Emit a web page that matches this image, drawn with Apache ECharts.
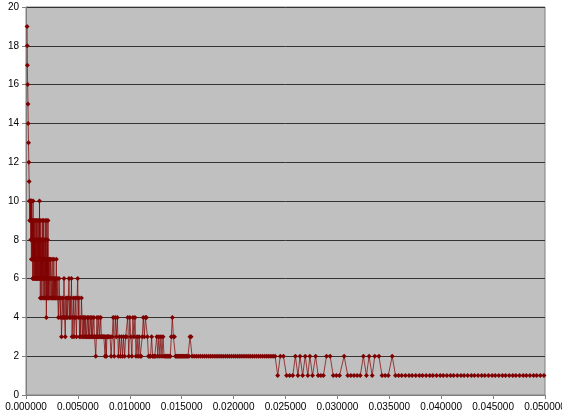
<!DOCTYPE html>
<html>
<head>
<meta charset="utf-8">
<script src="https://cdn.jsdelivr.net/npm/echarts@6/dist/echarts.min.js"></script>
<style>
html,body{margin:0;padding:0;background:#fff;}
#c{width:562px;height:417px;}
</style>
</head>
<body>
<div id="c"></div>
<script>
// Tick settings
const xTicks = [0, 0.005, 0.010, 0.015, 0.020, 0.025, 0.030, 0.035, 0.040, 0.045, 0.050];
const yTicks = [0, 2, 4, 6, 8, 10, 12, 14, 16, 18, 20];

// Segment 1: initial spike
const spikeX = [0.00010,0.00012,0.00013,0.00016,0.00019,0.00021,0.00024,0.00027,0.00030,0.00033,0.00036];
const spikeY = [19,18,17,16,15,14,13,12,11,10,9];

// Segment 2a: very dense block 0.0004 - 0.0022
const denseX = [0.00040,0.00042,0.00044,0.00046,0.00048,0.00050,0.00052,0.00054,0.00056,0.00058,
  0.00060,0.00062,0.00064,0.00066,0.00068,0.00070,0.00072,0.00074,0.00076,0.00078,
  0.00080,0.00082,0.00084,0.00086,0.00088,0.00090,0.00092,0.00094,0.00096,0.00098,
  0.00100,0.00102,0.00104,0.00106,0.00108,0.00110,0.00112,0.00114,0.00116,0.00118,
  0.00120,0.00122,0.00124,0.00126,0.00128,0.00130,0.00132,0.00134,0.00136,0.00138,
  0.00140,0.00142,0.00144,0.00146,0.00148,0.00150,0.00152,0.00154,0.00156,0.00158,
  0.00160,0.00162,0.00164,0.00166,0.00168,0.00170,0.00172,0.00174,0.00176,0.00178,
  0.00180,0.00182,0.00184,0.00186,0.00188,0.00190,0.00192,0.00194,0.00196,0.00198,
  0.00200,0.00202,0.00204,0.00206,0.00208,0.00210,0.00212,0.00214,0.00216,0.00218,
  0.00220];
const denseY = [10,9,10,8,10,9,7,10,8,9,
  7,9,6,8,10,7,9,6,8,7,
  9,6,8,7,9,6,7,8,6,9,
  7,6,8,9,6,7,8,6,9,7,
  6,8,7,9,6,10,7,6,8,5,
  7,9,6,8,6,7,5,8,6,9,
  7,6,8,5,7,9,6,7,8,6,
  5,7,6,9,6,8,5,7,4,6,
  9,6,7,5,8,6,9,5,7,6,
  5];

// Segment 2b: 0.0022 - 0.003
const stepX = [0.00224,0.00228,0.00232,0.00236,0.00240,0.00244,0.00248,0.00252,0.00256,0.00260,
  0.00264,0.00268,0.00272,0.00276,0.00280,0.00284,0.00288,0.00292,0.00296,0.00300];
const stepY = [7,6,5,7,6,5,6,7,5,6,
  5,7,5,6,5,6,5,7,5,6];

// Segment 3: 0.003 - 0.008
const midX = [0.00306,0.00312,0.00318,0.00324,0.00330,0.00336,0.00342,0.00348,0.00354,0.00360,
  0.00366,0.00372,0.00378,0.00384,0.00390,0.00396,0.00402,0.00408,0.00414,0.00420,
  0.00426,0.00432,0.00438,0.00444,0.00450,0.00456,0.00462,0.00468,0.00474,0.00480,
  0.00486,0.00492,0.00498,0.00504,0.00510,0.00516,0.00522,0.00528,0.00534,0.00540,
  0.00546,0.00552,0.00558,0.00564,0.00570,0.00576,0.00582,0.00588,0.00594,0.00600,
  0.00606,0.00612,0.00618,0.00624,0.00630,0.00636,0.00642,0.00648,0.00654,0.00660,
  0.00666,0.00672,0.00678,0.00684,0.00690,0.00696,0.00702,0.00708,0.00714,0.00720,
  0.00726,0.00732,0.00738,0.00744,0.00750,0.00756,0.00762,0.00768,0.00774,0.00780,
  0.00786,0.00792,0.00798];
const midY = [5,4,6,5,4,5,3,4,5,4,
  6,4,3,5,4,5,4,5,6,4,
  5,4,6,3,4,5,3,4,5,4,
  3,5,6,4,5,3,4,3,5,4,
  3,4,3,4,3,4,3,3,4,3,
  4,3,3,4,3,4,3,3,4,3,
  3,2,3,4,3,3,4,3,3,4,
  3,3,3,3,3,3,2,3,2,3,
  3,3,3];

// Segment 4: 0.008 - 0.016
const lowX = [0.0081,0.0082,0.0083,0.0084,0.0085,0.0086,0.0087,0.0088,0.0089,0.0090,
  0.0091,0.0092,0.0093,0.0094,0.0095,0.0096,0.0097,0.0098,0.0099,0.0100,
  0.0101,0.0102,0.0103,0.0104,0.0105,0.0106,0.0107,0.0108,0.0109,0.0110,
  0.0111,0.0112,0.0113,0.0114,0.0115,0.0116,0.0117,0.0118,0.0119,0.0120,
  0.0121,0.0122,0.0123,0.0124,0.0125,0.0126,0.0127,0.0128,0.0129,0.0130,
  0.0131,0.0132,0.0133,0.0134,0.0135,0.0136,0.0137,0.0138,0.0139,0.0140,
  0.0141,0.0142,0.0143,0.0144,0.0145,0.0146,0.0147,0.0148,0.0149,0.0150,
  0.0151,0.0152,0.0153,0.0154,0.0155,0.0156,0.0157,0.0158,0.0159,0.0160];
const lowY = [3,2,3,4,2,4,3,4,2,3,
  2,3,2,3,2,3,3,4,2,4,
  3,2,4,3,4,2,3,2,3,2,
  2,3,4,3,4,4,3,2,2,2,
  3,2,2,2,2,3,2,3,2,3,
  2,3,2,2,2,2,2,2,2,3,
  4,3,3,2,2,2,2,2,2,2,
  2,2,2,2,2,2,2,3,3,2];

// Segment 5: plateau at 2, 0.016 - 0.024
const plateauX = [0.0162,0.0164,0.0166,0.0168,0.0170,0.0172,0.0174,0.0176,0.0178,0.0180,
  0.0182,0.0184,0.0186,0.0188,0.0190,0.0192,0.0194,0.0196,0.0198,0.0200,
  0.0202,0.0204,0.0206,0.0208,0.0210,0.0212,0.0214,0.0216,0.0218,0.0220,
  0.0222,0.0224,0.0226,0.0228,0.0230,0.0232,0.0234,0.0236,0.0238];
const plateauY = [2,2,2,2,2,2,2,2,2,2,
  2,2,2,2,2,2,2,2,2,2,
  2,2,2,2,2,2,2,2,2,2,
  2,2,2,2,2,2,2,2,2];

// Segment 6: alternating 1 / 2, 0.024 - 0.036
const altX = [0.02400,0.02425,0.02450,0.02480,0.02510,0.02540,0.02570,0.02595,0.02620,0.02640,
  0.02665,0.02690,0.02715,0.02735,0.02760,0.02790,0.02815,0.02840,0.02865,0.02895,
  0.02930,0.02960,0.02990,0.03020,0.03065,0.03100,0.03130,0.03160,0.03190,0.03220,
  0.03250,0.03280,0.03305,0.03335,0.03360,0.03400,0.03430,0.03460,0.03490,0.03528,
  0.03560,0.03590];
const altY = [2,1,2,2,1,1,1,2,1,2,
  1,2,1,2,1,2,1,1,1,2,
  2,1,1,1,2,1,1,1,1,1,
  2,1,2,1,2,2,1,1,1,2,
  1,1];

// Segment 7: tail at 1, 0.036 - 0.050
const tailX = [0.03620,0.03655,0.03690,0.03720,0.03755,0.03790,0.03820,0.03855,0.03890,0.03920,
  0.03955,0.03990,0.04020,0.04055,0.04090,0.04120,0.04155,0.04190,0.04220,0.04255,
  0.04290,0.04320,0.04355,0.04390,0.04420,0.04455,0.04490,0.04520,0.04555,0.04590,
  0.04620,0.04655,0.04690,0.04720,0.04755,0.04790,0.04820,0.04855,0.04890,0.04920,
  0.04955,0.04990];
const tailY = [1,1,1,1,1,1,1,1,1,1,
  1,1,1,1,1,1,1,1,1,1,
  1,1,1,1,1,1,1,1,1,1,
  1,1,1,1,1,1,1,1,1,1,
  1,1];

const segX = [spikeX, denseX, stepX, midX, lowX, plateauX, altX, tailX];
const segY = [spikeY, denseY, stepY, midY, lowY, plateauY, altY, tailY];
const points = [];
segX.forEach((xs, s) => xs.forEach((x, i) => points.push([x, segY[s][i]])));

const chart = echarts.init(document.getElementById('c'), null, {renderer: 'canvas'});
chart.setOption({
  animation: false,
  backgroundColor: '#ffffff',
  grid: {
    left: 26, right: 17, top: 7, bottom: 22,
    show: true, backgroundColor: '#c0c0c0', borderColor: '#808080', borderWidth: 1,
    containLabel: false,
    outerBoundsMode: 'none'
  },
  xAxis: {
    type: 'value',
    min: xTicks[0], max: xTicks[xTicks.length - 1], interval: xTicks[1] - xTicks[0],
    axisLine: {show: true, onZero: false, lineStyle: {color: '#808080', width: 1}},
    axisTick: {show: true, length: 4, lineStyle: {color: '#808080'}},
    axisLabel: {
      color: '#000', fontFamily: 'Liberation Sans, Arial, sans-serif', fontSize: 10, margin: 7,
      showMaxLabel: true, showMinLabel: true,
      formatter: v => v.toFixed(6)
    },
    splitLine: {show: false}
  },
  yAxis: {
    type: 'value',
    min: yTicks[0], max: yTicks[yTicks.length - 1], interval: yTicks[1] - yTicks[0],
    axisLine: {show: true, lineStyle: {color: '#808080', width: 1}},
    axisTick: {show: true, length: 4, lineStyle: {color: '#808080'}},
    axisLabel: {color: '#000', fontFamily: 'Liberation Sans, Arial, sans-serif', fontSize: 10, margin: 7},
    splitLine: {show: true, lineStyle: {color: '#333333', width: 1}}
  },
  series: [{
    type: 'line',
    data: points,
    symbol: 'diamond',
    symbolSize: 5,
    showAllSymbol: true,
    itemStyle: {color: '#800000'},
    lineStyle: {color: '#800000', width: 1, opacity: 0.7},
    emphasis: {disabled: true}
  }]
});
</script>
</body>
</html>
